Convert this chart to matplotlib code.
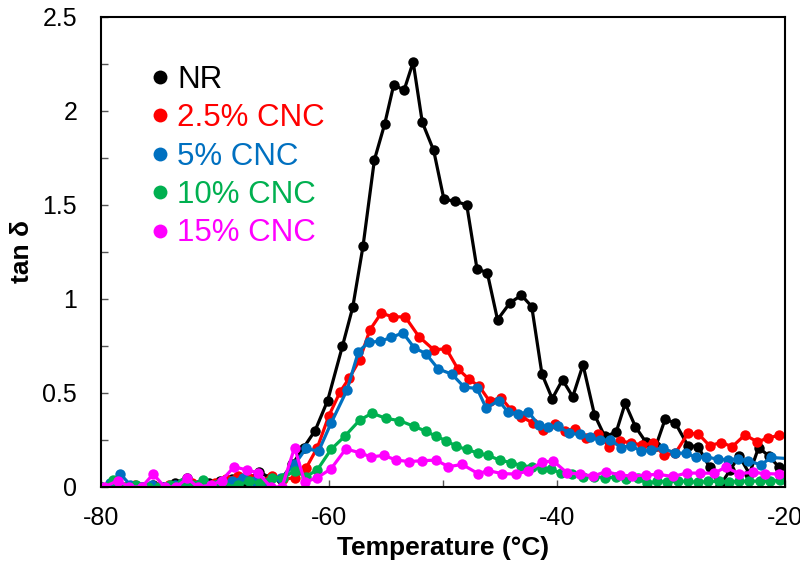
import matplotlib
matplotlib.use("Agg")
import matplotlib.pyplot as plt
from matplotlib.lines import Line2D
from matplotlib.ticker import MultipleLocator

plt.rcParams["font.family"] = ["Liberation Sans", "DejaVu Sans"]
plt.rcParams["axes.unicode_minus"] = False

# Loss factor (tan delta) versus temperature for natural rubber and CNC composites
nr_t = [-80.0, -79.1, -78.2, -77.3, -76.4, -75.4, -74.5, -73.5, -72.4, -71.5, -70.5,
        -69.5, -68.5, -67.4, -66.1, -65.2, -64.2, -63.2, -62.2, -61.2, -60.1, -58.8,
        -57.9, -57.0, -56.0, -55.1, -54.3, -53.4, -52.6, -51.8, -50.8, -49.9, -48.9,
        -47.9, -47.0, -46.1, -45.2, -44.1, -43.1, -42.2, -41.3, -40.4, -39.5, -38.6,
        -37.7, -36.7, -35.8, -34.8, -34.0, -33.1, -32.2, -31.3, -30.5, -29.6, -28.5,
        -27.6, -26.6, -25.7, -24.8, -24.0, -23.1, -22.3, -21.4, -20.5]
nr_tan = [0.0, 0.02, 0.0, 0.0, 0.0, 0.01, 0.0, 0.02, 0.05, 0.01, 0.02,
          0.03, 0.04, 0.03, 0.08, 0.05, 0.04, 0.12, 0.21, 0.30, 0.46, 0.75,
          0.956, 1.28, 1.74, 1.93, 2.14, 2.11, 2.26, 1.94, 1.79, 1.53, 1.52,
          1.50, 1.16, 1.14, 0.89, 0.98, 1.02, 0.96, 0.60, 0.47, 0.57, 0.48,
          0.65, 0.385, 0.27, 0.29, 0.445, 0.32, 0.24, 0.22, 0.36, 0.34, 0.22,
          0.215, 0.105, 0.005, 0.09, 0.165, 0.07, 0.21, 0.165, 0.105]

c25_t = [-80.0, -79.0, -78.0, -77.0, -76.0, -75.0, -74.0, -73.0, -72.0, -71.0, -70.0,
         -69.0, -68.0, -67.0, -66.0, -65.0, -64.0, -63.0, -62.0, -61.0, -60.0, -59.0,
         -58.2, -57.3, -56.4, -55.4, -54.4, -53.3, -52.1, -50.8, -49.7, -48.7, -47.7,
         -46.8, -45.9, -44.9, -44.0, -43.1, -42.1, -41.2, -40.2, -39.3, -38.4, -37.4,
         -36.4, -35.4, -34.5, -33.5, -32.5, -31.6, -30.6, -29.6, -28.5, -27.6, -26.6,
         -25.6, -24.6, -23.5, -22.4, -21.5, -20.5]
c25_tan = [0.0, 0.0, 0.0, 0.01, 0.0, 0.0, 0.01, 0.01, 0.02, 0.0, 0.02,
           0.04, 0.06, 0.05, 0.03, 0.06, 0.04, 0.05, 0.10, 0.21, 0.378, 0.507,
           0.58, 0.675, 0.835, 0.925, 0.905, 0.905, 0.80, 0.73, 0.735, 0.63, 0.573,
           0.535, 0.457, 0.475, 0.41, 0.374, 0.34, 0.305, 0.335, 0.30, 0.31, 0.26,
           0.282, 0.214, 0.245, 0.235, 0.223, 0.232, 0.17, 0.18, 0.285, 0.283, 0.22,
           0.236, 0.215, 0.277, 0.24, 0.26, 0.275]

c5_t = [-80.0, -79.2, -78.3, -77.4, -76.4, -75.5, -74.5, -73.5, -72.5, -71.5, -70.5,
        -69.5, -68.5, -67.5, -66.5, -65.5, -64.2, -63.0, -62.0, -60.9, -59.8, -58.4,
        -57.4, -56.5, -55.5, -54.5, -53.5, -52.5, -51.5, -50.4, -49.2, -48.1, -47.0,
        -46.2, -45.1, -44.3, -43.4, -42.5, -41.6, -40.8, -39.9, -38.9, -38.0, -37.1,
        -36.2, -35.3, -34.4, -33.5, -32.6, -31.7, -30.7, -29.6, -28.7, -27.8, -26.9,
        -25.9, -25.0, -24.1, -23.2, -22.1, -21.2, -19.5]
c5_tan = [0.0, 0.02, 0.07, 0.01, 0.0, 0.01, 0.0, 0.01, 0.02, 0.01, 0.0,
          0.02, 0.03, 0.05, 0.03, 0.02, 0.046, 0.12, 0.205, 0.19, 0.34, 0.516,
          0.72, 0.77, 0.775, 0.796, 0.82, 0.74, 0.71, 0.628, 0.60, 0.53, 0.525,
          0.42, 0.46, 0.40, 0.388, 0.40, 0.33, 0.32, 0.325, 0.285, 0.28, 0.265,
          0.248, 0.252, 0.21, 0.22, 0.19, 0.196, 0.206, 0.18, 0.18, 0.158, 0.16,
          0.148, 0.145, 0.15, 0.14, 0.117, 0.157, 0.15]

c10_t = [-80.0, -78.9, -77.9, -76.9, -75.9, -74.9, -73.9, -72.9, -71.9, -71.0, -70.0,
         -69.0, -68.0, -67.0, -66.0, -65.0, -64.0, -63.0, -62.0, -61.0, -59.8, -58.6,
         -57.3, -56.2, -55.0, -53.8, -52.5, -51.5, -50.6, -49.7, -48.8, -47.9, -46.9,
         -46.0, -45.0, -44.0, -43.1, -42.2, -41.3, -40.5, -39.6, -38.7, -37.7, -36.7,
         -35.8, -34.8, -33.9, -32.9, -32.1, -31.2, -30.3, -29.4, -28.5, -27.6, -26.7,
         -25.8, -24.9, -24.0, -23.1, -22.2, -21.3, -20.4]
c10_tan = [0.0, 0.037, 0.0, 0.01, 0.0, 0.0, 0.01, 0.02, 0.01, 0.037, 0.01,
           0.0, 0.01, 0.03, 0.02, 0.05, 0.05, 0.085, 0.055, 0.092, 0.20, 0.27,
           0.355, 0.393, 0.365, 0.353, 0.322, 0.297, 0.27, 0.246, 0.216, 0.20, 0.18,
           0.168, 0.142, 0.13, 0.113, 0.108, 0.095, 0.096, 0.072, 0.07, 0.055, 0.055,
           0.05, 0.051, 0.041, 0.046, 0.02, 0.03, 0.028, 0.03, 0.03, 0.025, 0.03,
           0.03, 0.028, 0.03, 0.03, 0.032, 0.03, 0.035]

c15_t = [-79.7, -78.5, -77.5, -76.4, -75.4, -74.4, -73.4, -72.4, -71.5, -70.3, -69.4,
         -68.3, -67.2, -66.2, -65.1, -64.1, -63.0, -62.1, -61.0, -59.8, -58.5, -57.3,
         -56.3, -55.2, -54.1, -53.0, -51.8, -50.6, -49.5, -48.3, -46.9, -46.0, -44.8,
         -43.6, -42.5, -41.3, -40.3, -39.1, -38.0, -36.8, -35.7, -34.5, -33.4, -32.2,
         -31.1, -29.8, -28.6, -27.4, -26.2, -25.2, -24.0, -22.8, -21.7, -20.5]
c15_tan = [0.0, 0.034, 0.0, 0.0, 0.069, 0.0, 0.0, 0.046, 0.0, 0.01, 0.034,
           0.108, 0.09, 0.076, 0.0, 0.0, 0.21, 0.025, 0.05, 0.097, 0.203, 0.182,
           0.16, 0.168, 0.144, 0.135, 0.14, 0.143, 0.108, 0.12, 0.071, 0.087, 0.071,
           0.069, 0.085, 0.133, 0.138, 0.075, 0.069, 0.058, 0.082, 0.064, 0.058, 0.064,
           0.067, 0.056, 0.074, 0.074, 0.073, 0.105, 0.071, 0.078, 0.071, 0.069]

labels = ["NR", "2.5% CNC", "5% CNC", "10% CNC", "15% CNC"]
colors = ["#000000", "#FF0000", "#0070C0", "#00B050", "#FF00FF"]
series = [(nr_t, nr_tan), (c25_t, c25_tan), (c5_t, c5_tan),
          (c10_t, c10_tan), (c15_t, c15_tan)]

fig = plt.figure(figsize=(8.0, 5.66), dpi=100)
ax = fig.add_axes([0.126, 0.1396, 0.855, 0.8304])

for (t, v), col in zip(series, colors):
    ax.plot(t, v, color=col, linewidth=2.3, marker="o", markersize=7.5,
            markeredgewidth=0, solid_joinstyle="round")

ax.set_xlim(-80, -20)
ax.set_ylim(0, 2.5)
ax.xaxis.set_major_locator(MultipleLocator(20))
ax.xaxis.set_minor_locator(MultipleLocator(10))
ax.yaxis.set_minor_locator(MultipleLocator(0.25))
ax.set_yticks([0, 0.5, 1, 1.5, 2, 2.5])
ax.set_yticklabels(["0", "0.5", "1", "1.5", "2", "2.5"])
ax.tick_params(which="both", direction="in", length=5, width=1.0, color="#555555",
               labelsize=18, top=False, right=False)
ax.tick_params(axis="x", pad=14)
ax.tick_params(axis="y", pad=17)
for s in ax.spines.values():
    s.set_linewidth(1.5)
    s.set_color("black")

ax.set_xlabel("Temperature (°C)", fontsize=19, fontweight="bold", labelpad=4)
ax.set_ylabel("tan δ", fontsize=19, fontweight="bold", labelpad=6)

handles = [Line2D([], [], linestyle="none", marker="o", markersize=10,
                  markeredgewidth=0, color=c) for c in colors]
ax.legend(handles, labels, loc="upper left", bbox_to_anchor=(0.055, 0.925),
          frameon=False, fontsize=22.5, handlelength=0.6, handletextpad=0.25,
          labelspacing=0.27, borderaxespad=0, labelcolor=colors)

fig.savefig("out.png", dpi=100)
